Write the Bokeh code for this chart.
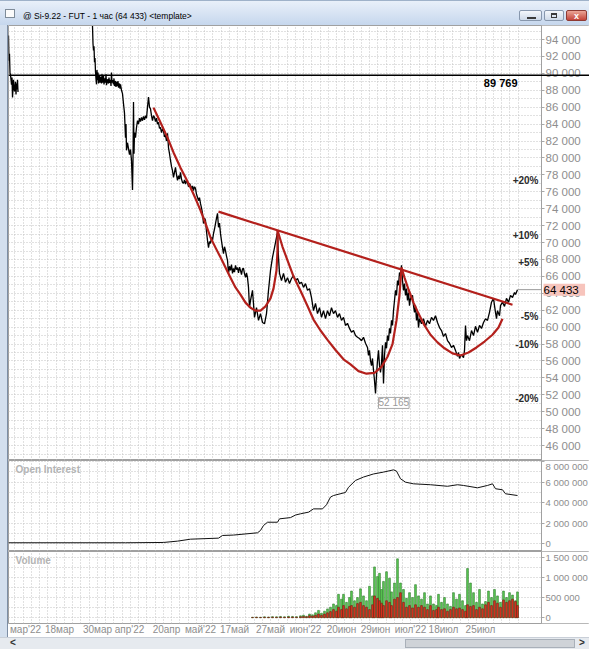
from bokeh.plotting import figure
from bokeh.models import Range1d, FixedTicker, Grid, Span, Label, Div, BoxAnnotation
from bokeh.layouts import column, row
from bokeh.core.properties import value
from bokeh.embed import file_html
from bokeh.resources import INLINE

# ------------------------------------------------------------------ data
instrument = "@ Si-9.22 - FUT - 1 час"
template_name = "template"

# x = bar position on the chart's time scale, value = price (RUB)
price_a = [(8, 94470), (8.5, 91500), (9, 92300), (9.5, 90000), (10, 89850), (11, 88650),
           (11.5, 89500), (12, 87150), (13, 89250), (13.5, 88300), (14, 87850), (15, 89000),
           (15.5, 87500), (16, 88800), (16.5, 88100), (17, 89250), (17.5, 87800)]

price_b = [
    (92, 95600), (92.5, 93500), (93, 92700), (93.5, 93200), (94, 91300), (94.5, 91800), (95, 90200),
    (95.5, 89300), (96, 88700), (96.5, 90400), (97, 89200), (97.5, 90100), (98, 88800), (99, 89700),
    (99.5, 88900), (100, 89600), (101, 88800), (101.5, 89900), (102, 88900), (103, 89700), (103.5, 88700),
    (104, 89400), (105, 88900), (105.5, 89900), (106, 88600), (107, 89300), (108, 88800), (108.5, 89500),
    (109, 88900), (110, 89200), (110.5, 88500), (111, 90100), (111.5, 88900), (112, 89200), (113, 88700),
    (113.5, 89400), (114, 88500), (115, 89100), (115.5, 88400), (116, 89000), (117, 88500), (117.5, 89100),
    (118, 88300), (119, 88800), (119.5, 88200), (120, 88700), (121, 88000), (122, 87600), (123, 86400),
    (124, 85300), (125, 82400), (125.5, 84000), (126, 80900), (127, 81800), (128, 81100), (129, 80400),
    (130, 81000), (131, 79700), (132, 76200), (132.5, 79800), (133, 86600), (133.5, 80500), (134, 83000),
    (135, 82400), (136, 83600), (137, 84400), (138, 84000), (139, 84700), (140, 84300), (141, 84800),
    (142, 84400), (143, 84900), (144, 84500), (145, 85000), (146, 84700), (147, 86000), (148, 87200),
    (149, 86000), (150, 85800), (151, 85000), (152, 84400), (153, 85000), (154, 84800), (155, 84300),
    (156, 84700), (157, 84000), (158, 84200), (159, 83500), (160, 83600), (161, 83000), (162, 83400),
    (163, 83200), (164, 82500), (165, 82700), (166, 82000), (167, 82900), (168, 81200), (169, 80500),
    (170, 79700), (171, 79000), (172, 78500), (173, 77700), (174, 78300), (175, 78900), (176, 78000),
    (177, 77350), (178, 77900), (179, 77500), (180, 78300), (181, 77500), (182, 77100), (183, 77000),
    (184, 77400), (185, 76900), (186, 77300), (187, 77100), (188, 76600), (189, 77000), (190, 76750),
    (191, 76300), (192, 76700), (193, 76150), (194, 76600), (195, 76400), (196, 75700), (197, 75350),
    (198, 74950), (199, 75300), (200, 74600), (201, 74100), (202, 73450), (203, 72250), (204, 72900),
    (205, 72600), (206, 71300), (207, 70250), (208, 69400), (209, 70100), (210, 69900), (211, 70600),
    (212, 70250), (213, 71050), (214, 71600), (215, 72250), (216, 72900), (217, 73450), (218, 71800),
    (219, 72300), (220, 71050), (221, 70200), (222, 69400), (223, 68700), (224, 69500), (225, 69050),
    (226, 68400), (227, 67900), (228, 66350), (229, 67200), (230, 66700), (231, 67400), (232, 66350),
    (233, 66950), (234, 66500), (235, 67300), (236, 66800), (237, 67050), (238, 66400), (239, 67100),
    (240, 66700), (241, 66200), (242, 66900), (243, 66950), (244, 66300), (245, 65900), (246, 66400),
    (247, 65850), (248, 64700), (249, 62300), (250, 63150), (252, 64350), (254, 61150), (256, 62300),
    (258, 60800), (260, 61600), (262, 60550), (264, 60400), (266, 61600), (268, 64350), (270, 66700),
    (272, 68250), (274, 69400), (276, 70600), (277, 71200), (278, 68250), (279, 66350), (281, 65500),
    (283, 66350), (285, 65300), (287, 65850), (289, 65150), (291, 65750), (293, 66100), (295, 65500),
    (297, 65750), (299, 65150), (301, 65300), (303, 64700), (305, 65150), (307, 64350), (309, 64550),
    (311, 63500), (313, 61950), (315, 62800), (317, 61600), (319, 62300), (321, 61150), (323, 61950),
    (325, 61000), (327, 61950), (329, 61350), (331, 62300), (333, 61600), (335, 61950), (337, 61150),
    (339, 61600), (341, 60800), (343, 61150), (345, 60200), (347, 60450), (349, 59850), (351, 59400),
    (353, 59600), (355, 59000), (357, 58800), (359, 58650), (361, 58400), (363, 58800), (365, 58100),
    (367, 57600), (368, 56650), (369, 57250), (370, 56050), (371, 55450), (372, 56300), (373, 54900),
    (374, 53700), (375, 52165), (376, 54300), (377, 56050), (378, 57250), (379, 55450), (380, 54650),
    (381, 55800), (382, 57850), (383, 53350), (384, 56650), (385, 58200), (386, 57500), (387, 59000),
    (388, 58400), (389, 59850), (390, 59250), (391, 60800), (392, 60200), (393, 61950), (394, 63150),
    (395, 64350), (396, 63750), (397, 65500), (398, 64950), (399, 66450), (400, 66100), (401, 67300),
    (402, 65500), (403, 64350), (404, 65150), (405, 63750), (406, 64550), (407, 63150), (408, 64100),
    (409, 62550), (410, 63400), (412, 63750), (413, 62550), (414, 61750), (415, 62550), (416, 60800),
    (417, 61750), (418, 59950), (419, 61000), (421, 60400), (423, 61000), (425, 60100), (427, 60800),
    (429, 60400), (431, 61150), (433, 60800), (435, 61350), (437, 60550), (439, 59950), (441, 59600),
    (443, 58900), (445, 59250), (447, 58400), (449, 58100), (451, 57600), (453, 57850), (455, 57250),
    (457, 56550), (458, 57000), (459, 56300), (461, 56800), (463, 56400), (464, 57250), (465, 60200),
    (466, 58400), (467, 59000), (469, 58400), (471, 59600), (473, 59000), (475, 60100), (477, 59400),
    (479, 60200), (481, 59850), (483, 60550), (485, 61000), (487, 60800), (489, 61750), (491, 62950),
    (493, 63400), (494, 62550), (495, 61750), (496, 61000), (497, 61950), (499, 61350), (500, 62550),
    (502, 62950), (504, 62450), (506, 63400), (508, 62950), (510, 63750), (512, 63500), (514, 64100),
    (515, 63850), (517, 64433)]

ref_level = 89769
pct_levels = [20, 10, 5, -5, -10, -20]

# hand-drawn red pattern lines (x, price)
cup_a = [(153, 85950), (160, 84200), (167, 82400), (173, 80650), (180, 78850), (185, 77700),
         (190, 76500), (195, 75200), (200, 73800), (205, 72250), (210, 70600), (215, 69400),
         (220, 68250), (225, 67050), (230, 65850), (235, 64700), (240, 63850), (245, 62900),
         (250, 62300), (255, 61950), (260, 61950), (265, 62450), (270, 63400), (273, 64550),
         (276, 66700), (277, 69050), (277, 71450)]
cup_b = [(277, 71450), (282, 69500), (287, 67900), (293, 66000), (300, 64300), (307, 62500),
         (313, 60900), (320, 59600), (327, 58500), (335, 57300), (343, 56200), (350, 55600),
         (358, 54800), (366, 54500), (374, 54600), (381, 55300), (387, 56500), (392, 58000),
         (396, 60800), (399, 63800), (401, 67050)]
cup_c = [(401, 67050), (404, 65850), (408, 64450), (413, 62900), (418, 61600), (424, 60200),
         (430, 59100), (437, 58200), (444, 57500), (452, 56900), (460, 56650), (468, 57000),
         (476, 57600), (484, 58300), (492, 59100), (498, 59950), (502, 61000)]
neckline = [(218, 73650), (512, 62650)]

# open interest, millions of contracts
oi_x = [8, 125, 163, 177, 190, 218, 222, 233, 257, 260, 263, 267, 277, 279, 290, 295, 300, 308,
        313, 322, 326, 330, 333, 345, 348, 355, 363, 373, 383, 393, 396, 400, 405, 413, 430, 447,
        457, 463, 477, 487, 492, 495, 502, 505, 517]
oi_m = [0.10, 0.10, 0.13, 0.26, 0.45, 0.55, 0.81, 0.85, 1.07, 1.30, 1.78, 2.10, 2.10, 2.43, 2.55,
        2.80, 2.92, 3.08, 3.40, 3.40, 3.80, 4.55, 4.70, 5.00, 5.50, 6.17, 6.50, 6.80, 6.98, 7.20,
        7.08, 6.33, 6.00, 5.84, 5.75, 5.60, 5.75, 5.68, 5.45, 5.68, 5.84, 5.36, 5.26, 4.87, 4.70]

# volume, thousands of contracts (up bars / down bars)
vol_x = [252, 256, 260, 264, 268, 272, 276, 280, 284, 288, 292, 296, 300, 303, 306, 309, 312, 315,
         318, 321, 324, 327, 330, 333, 336, 338, 341, 343, 346, 349, 351, 354, 357, 360, 363, 366,
         369, 372, 374, 377, 379, 381, 383, 386, 389, 391, 394, 397, 400, 403, 406, 409, 412, 415,
         418, 421, 424, 427, 430, 433, 436, 438, 441, 444, 447, 450, 453, 456, 459, 462, 465, 467,
         470, 473, 476, 479, 482, 485, 488, 491, 494, 497, 500, 503, 506, 509, 512, 515, 517]
vol_up_k = [10, 15, 10, 20, 15, 25, 20, 30, 20, 35, 30, 25, 45, 60, 35, 90, 70, 120, 180, 110, 160,
            217, 260, 340, 300, 580, 460, 580, 380, 500, 660, 420, 500, 715, 540, 420, 780, 540, 1260,
            1020, 1100, 700, 900, 1140, 980, 640, 860, 1460, 860, 700, 480, 620, 500, 820, 540, 460,
            620, 340, 540, 340, 300, 580, 380, 500, 340, 280, 620, 460, 580, 420, 300, 1220, 860, 620,
            380, 700, 340, 400, 660, 500, 700, 540, 380, 660, 500, 620, 560, 420, 640]
vol_down_k = [5, 8, 5, 10, 8, 12, 10, 15, 10, 18, 15, 12, 20, 30, 20, 50, 40, 60, 90, 60, 90, 120,
              150, 200, 160, 260, 200, 300, 220, 280, 300, 260, 350, 380, 300, 260, 200, 320, 540, 480,
              420, 360, 300, 420, 380, 300, 460, 500, 620, 380, 260, 300, 240, 320, 260, 300, 260, 200,
              300, 180, 200, 260, 200, 220, 160, 200, 260, 220, 240, 200, 160, 320, 280, 300, 200, 260,
              220, 320, 380, 300, 420, 360, 260, 440, 380, 420, 460, 400, 300]

date_pos = [25, 59, 97, 129, 166, 200, 234, 270, 305, 341, 375, 410, 443, 480]
date_labels = ["мар'22", "18мар", "30мар", "апр'22", "20апр", "май'22", "17май", "27май",
               "июн'22", "20июн", "29июн", "июл'22", "18июл", "25июл"]

price_ticks = list(range(46000, 94001, 2000))
oi_ticks = [0, 2000000, 4000000, 6000000, 8000000]
vol_ticks = [0, 500000, 1000000, 1500000]

# ------------------------------------------------------------------ helpers
def fmt(v):
    return f"{int(round(v)):,}".replace(",", " ")

last_x, last_price = price_b[-1]
low_x, low_price = min(price_b, key=lambda t: t[1])

X0 = 8           # chart area starts 8 px from the window edge
X1 = 541         # position of the price scale line
W = 581
FONT = "Liberation Sans"
AXIS_GREY = "#8e8e8e"
FRAME_GREY = "#a0a0a0"
GRID_GREY = "#c2c2c2"
RED = "#b3201c"

vgrid = [517.5 - 8.25 * i for i in range(62)]


def base_fig(height, y_range, bottom=0, x_axis=None):
    f = figure(width=W, height=height, x_range=Range1d(X0, X0 + W), y_range=y_range,
               output_backend="svg", toolbar_location=None, x_axis_location=x_axis,
               y_axis_location="right", min_border_left=0, min_border_right=0,
               min_border_top=0, min_border_bottom=bottom, outline_line_color=FRAME_GREY,
               background_fill_color="white", border_fill_color="white")
    f.xgrid.visible = False
    f.ygrid.visible = False
    f.add_layout(Grid(dimension=0, ticker=FixedTicker(ticks=vgrid), grid_line_color=GRID_GREY,
                      grid_line_dash="1 2"))
    return f


def style_yaxis(f, ticks, size):
    ax = f.yaxis[0]
    ax.fixed_location = X1
    ax.ticker = FixedTicker(ticks=ticks)
    ax.major_label_overrides = {t: fmt(t) for t in ticks}
    ax.major_label_text_font = FONT
    ax.major_label_text_font_size = size
    ax.major_label_text_color = AXIS_GREY
    ax.major_tick_out = 3
    ax.major_tick_in = 0
    ax.minor_tick_out = 0
    ax.minor_tick_in = 0
    ax.major_tick_line_color = "#a8a8a8"
    ax.axis_line_color = FRAME_GREY
    ax.major_label_standoff = 1


def hgrid(f, ticks):
    f.add_layout(Grid(dimension=1, ticker=FixedTicker(ticks=ticks), grid_line_color=GRID_GREY,
                      grid_line_dash="1 2"))
    # the price-scale strip right of the scale line carries no grid
    f.add_layout(BoxAnnotation(left=X1, fill_color="white", fill_alpha=1.0, line_alpha=0,
                               level="underlay"))


def unzip(pairs):
    return [a for a, _ in pairs], [b for _, b in pairs]


# ------------------------------------------------------------------ title bar
title_text = f"{instrument} ({fmt(last_price)}) &lt;{template_name}&gt;"
btn = ("position:absolute;top:9px;height:11px;border:1px solid #8797ad;border-radius:2px;"
       "background:linear-gradient(#f4f7fb,#cdd9e8);")
title_html = (
    "<div style=\"position:relative;width:589px;height:25px;overflow:hidden;"
    "background:linear-gradient(to bottom,#e9f0f9,#c6d7ed);font-family:'Liberation Sans',Arial,sans-serif;"
    "border-top:1px solid #9fb2c9;box-sizing:border-box\">"
    "<div style='position:absolute;left:5px;top:8px;width:10px;height:9px;border:1px solid #7f8c99;"
    "background:#fbfbfb'></div>"
    f"<div style='position:absolute;left:23px;top:9px;font-size:8.5px;line-height:12px;color:#000;"
    f"white-space:nowrap'>{title_text}</div>"
    f"<div style='{btn}left:519px;width:23px'><div style='position:absolute;left:7px;top:6px;"
    "width:9px;height:2px;background:#3a3a3a'></div></div>"
    f"<div style='{btn}left:544px;width:20px'><div style='position:absolute;left:6px;top:2px;"
    "width:6px;height:5px;border:1px solid #3a3a3a;border-top-width:2px'></div></div>"
    "<div style='position:absolute;top:9px;left:566px;width:21px;height:11px;border:1px solid #8e3a33;"
    "border-radius:2px;background:linear-gradient(#eba597,#c4443a);color:#fff;font-size:9px;"
    "font-weight:bold;text-align:center;line-height:11px'>x</div>"
    "</div>")
title_bar = Div(text=title_html, width=589, height=25, margin=(0, 0, 0, 0))

# ------------------------------------------------------------------ price panel
p = base_fig(435, Range1d(44238, 95655))
style_yaxis(p, price_ticks, "11.5px")
hgrid(p, list(range(45000, 96000, 1000)))

p.add_layout(Span(location=ref_level, dimension="width", line_color="black", line_width=1.5))

ax_, av_ = unzip(price_a)
bx_, bv_ = unzip(price_b)
p.line(ax_, av_, line_color="black", line_width=1.3)
p.line(bx_, bv_, line_color="black", line_width=1.3)

for curve in (cup_a, cup_b, cup_c, neckline):
    cx, cv = unzip(curve)
    p.line(cx, cv, line_color=RED, line_width=2.2, line_join="round")

p.segment(x0=[last_x], y0=[last_price], x1=[X1], y1=[last_price], line_color="#9a9a9a",
          line_width=1)

pct_y = [last_price * (1 + l / 100) for l in pct_levels]
pct_txt = [f"{l:+d}%" for l in pct_levels]
p.text(x=[X1] * len(pct_levels), y=pct_y, text=pct_txt, x_offset=-3, text_align="right",
       text_baseline="middle", text_font=value(FONT), text_font_size="10px",
       text_font_style="bold", text_color="#2a2a2a")

p.add_layout(Label(x=last_x, y=ref_level, text=fmt(ref_level), text_align="right",
                   text_baseline="top", y_offset=-2, text_font=FONT, text_font_size="11px",
                   text_font_style="bold", text_color="black"))
# last-price marker sitting on the price scale
p.add_layout(Label(x=X1, y=last_price, text=fmt(last_price) + "  ", x_offset=2,
                   text_baseline="middle", text_font=FONT, text_font_size="11.5px",
                   text_color="black", background_fill_color="#f7c4bc"))
p.add_layout(Label(x=low_x, y=low_price, text=fmt(low_price), x_offset=3, y_offset=-4,
                   text_baseline="top", text_font=FONT, text_font_size="10px",
                   text_color="#9a9a9a", background_fill_color="white",
                   border_line_color="#a8a8a8"))

# ------------------------------------------------------------------ open interest panel
oi = base_fig(91, Range1d(-750000, 8110000))
style_yaxis(oi, oi_ticks, "9.5px")
hgrid(oi, [i * 1000000 for i in range(0, 9)])
oi.line(oi_x, [v * 1e6 for v in oi_m], line_color="#111111", line_width=1)
oi.add_layout(Label(x=X0, y=oi.y_range.end, x_offset=7, y_offset=-3, text="Open Interest",
                    text_baseline="top", text_font=FONT, text_font_size="10px",
                    text_font_style="bold", text_color="#b4b4b4"))

# ------------------------------------------------------------------ volume panel
vol = base_fig(86, Range1d(-145000, 1643000), bottom=12, x_axis="below")
style_yaxis(vol, vol_ticks, "9.5px")
hgrid(vol, [i * 250000 for i in range(0, 7)])
vol.vbar(x=vol_x, top=[v * 1000 for v in vol_up_k], width=1.8, fill_color="#5acb55",
         line_color="#2f7a2c", line_width=0.6)
vol.vbar(x=vol_x, top=[v * 1000 for v in vol_down_k], width=1.8, fill_color="#e0301e",
         line_color="#6e2416", line_width=0.6)
vol.add_layout(Label(x=X0, y=vol.y_range.end, x_offset=7, y_offset=-3, text="Volume",
                     text_baseline="top", text_font=FONT, text_font_size="10px",
                     text_font_style="bold", text_color="#b4b4b4"))
xa = vol.xaxis[0]
xa.ticker = FixedTicker(ticks=date_pos)
xa.major_label_overrides = dict(zip(date_pos, date_labels))
xa.major_label_text_font = FONT
xa.major_label_text_font_size = "10px"
xa.major_label_text_color = AXIS_GREY
xa.major_label_standoff = 0
xa.major_tick_out = 0
xa.major_tick_in = 0
xa.minor_tick_out = 0
xa.minor_tick_in = 0
xa.axis_line_color = None

# ------------------------------------------------------------------ window chrome
strip = Div(text="<div style='width:8px;height:612px;background:#d3dfee;"
                 "border-right:1px solid #7d8ea5;box-sizing:border-box'></div>",
            width=8, height=612, margin=(0, 0, 0, 0))

scroll_html = ("<div style='position:relative;width:589px;height:12px;background:#e6eaef;"
               "border-top:1px solid #c9cfd8;box-sizing:border-box;overflow:hidden;"
               "font:bold 10px \"Liberation Sans\",sans-serif;color:#333'>"
               "<div style='position:absolute;left:10px;top:-1px'>&lt;</div>"
               "<div style='position:absolute;left:405px;top:1px;width:170px;height:9px;"
               "background:#cfd3d8;border:1px solid #a9b0b9;box-sizing:border-box'></div>"
               "<div style='position:absolute;left:579px;top:-1px'>&gt;</div></div>")
scroll = Div(text=scroll_html, width=589, height=12, margin=(0, 0, 0, 0))

panels = column(p, oi, vol, spacing=0)
layout = column(title_bar, row(strip, panels, spacing=0), scroll, spacing=0)

with open("out.html", "w") as fh:
    fh.write(file_html(layout, INLINE))
